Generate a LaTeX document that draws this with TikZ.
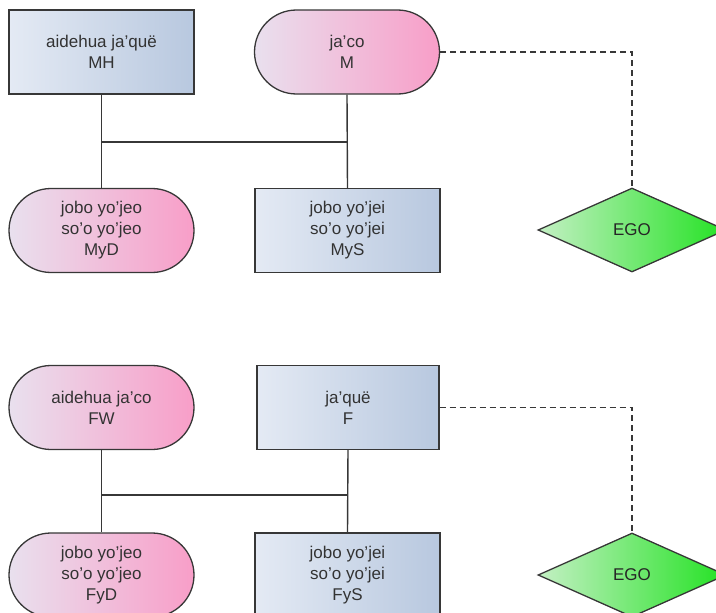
\documentclass[tikz,border=0pt]{standalone}
\usepackage{fontspec}
\setmainfont{Liberation Sans}
\usetikzlibrary{shapes.geometric}
\definecolor{boxL}{RGB}{228,234,244}
\definecolor{boxR}{RGB}{184,200,223}
\definecolor{pillL}{RGB}{233,224,238}
\definecolor{pillR}{RGB}{248,158,200}
\definecolor{egoL}{RGB}{196,240,196}
\definecolor{egoR}{RGB}{36,226,36}
\definecolor{edge}{RGB}{55,55,55}
\definecolor{ink}{RGB}{51,51,51}
\tikzset{
  person/.style={draw=edge, line width=1.3pt, inner sep=0pt, align=center,
    text=ink, font=\fontsize{17}{21}\selectfont,
    minimum width=185pt, minimum height=84pt},
  male/.style={person, rectangle, left color=boxL, right color=boxR},
  female/.style={person, rectangle, rounded corners=42pt, left color=pillL, right color=pillR},
  ego/.style={person, diamond, shape aspect=2.24, minimum width=188pt, minimum height=84pt,
    left color=egoL, right color=egoR, text=black!85},
  kin/.style={draw=edge, line width=1.4pt},
  tie/.style={draw=edge, line width=1.4pt, dash pattern=on 6pt off 4pt}
}
\begin{document}
\begin{tikzpicture}[x=1pt, y=-1pt]
\useasboundingbox (0,0) rectangle (716,613);
\begin{scope}
\clip (0,0) rectangle (716,613);

% mother's side
\node[male]   (MH)  at (101.5,52)  {aidehua ja'quë\\MH};
\node[female] (M)   at (347,52)    {ja'co\\M};
\node[female] (MyD) at (101.5,230.5) {jobo yo'jeo\\so'o yo'jeo\\MyD};
\node[male]   (MyS) at (347.5,230.5) {jobo yo'jei\\so'o yo'jei\\MyS};
\node[ego]    (E1)  at (632,230)   {EGO};
\coordinate (bar1) at (0,142);

\draw[kin] (MH.south) -- (MyD.north);
\draw[kin] (M.south) -- (MyS.north);
\draw[kin] (MH.south |- bar1) -- (M.south |- bar1);
\draw[tie] (M.east) -| (E1.north);

% father's side
\node[female] (FW)  at (101.5,407.5) {aidehua ja'co\\FW};
\node[male, minimum width=182pt] (F) at (348,407.5) {ja'quë\\F};
\node[female] (FyD) at (101.5,575) {jobo yo'jeo\\so'o yo'jeo\\FyD};
\node[male]   (FyS) at (347.5,575) {jobo yo'jei\\so'o yo'jei\\FyS};
\node[ego]    (E2)  at (632,575)   {EGO};
\coordinate (bar2) at (0,495);

\draw[kin] (FW.south) -- (FyD.north);
\draw[kin] (F.south) -- (FyS.north);
\draw[kin] (FW.south |- bar2) -- (F.south |- bar2);
\draw[tie] (F.east) -| (E2.north);
\end{scope}
\end{tikzpicture}
\end{document}
